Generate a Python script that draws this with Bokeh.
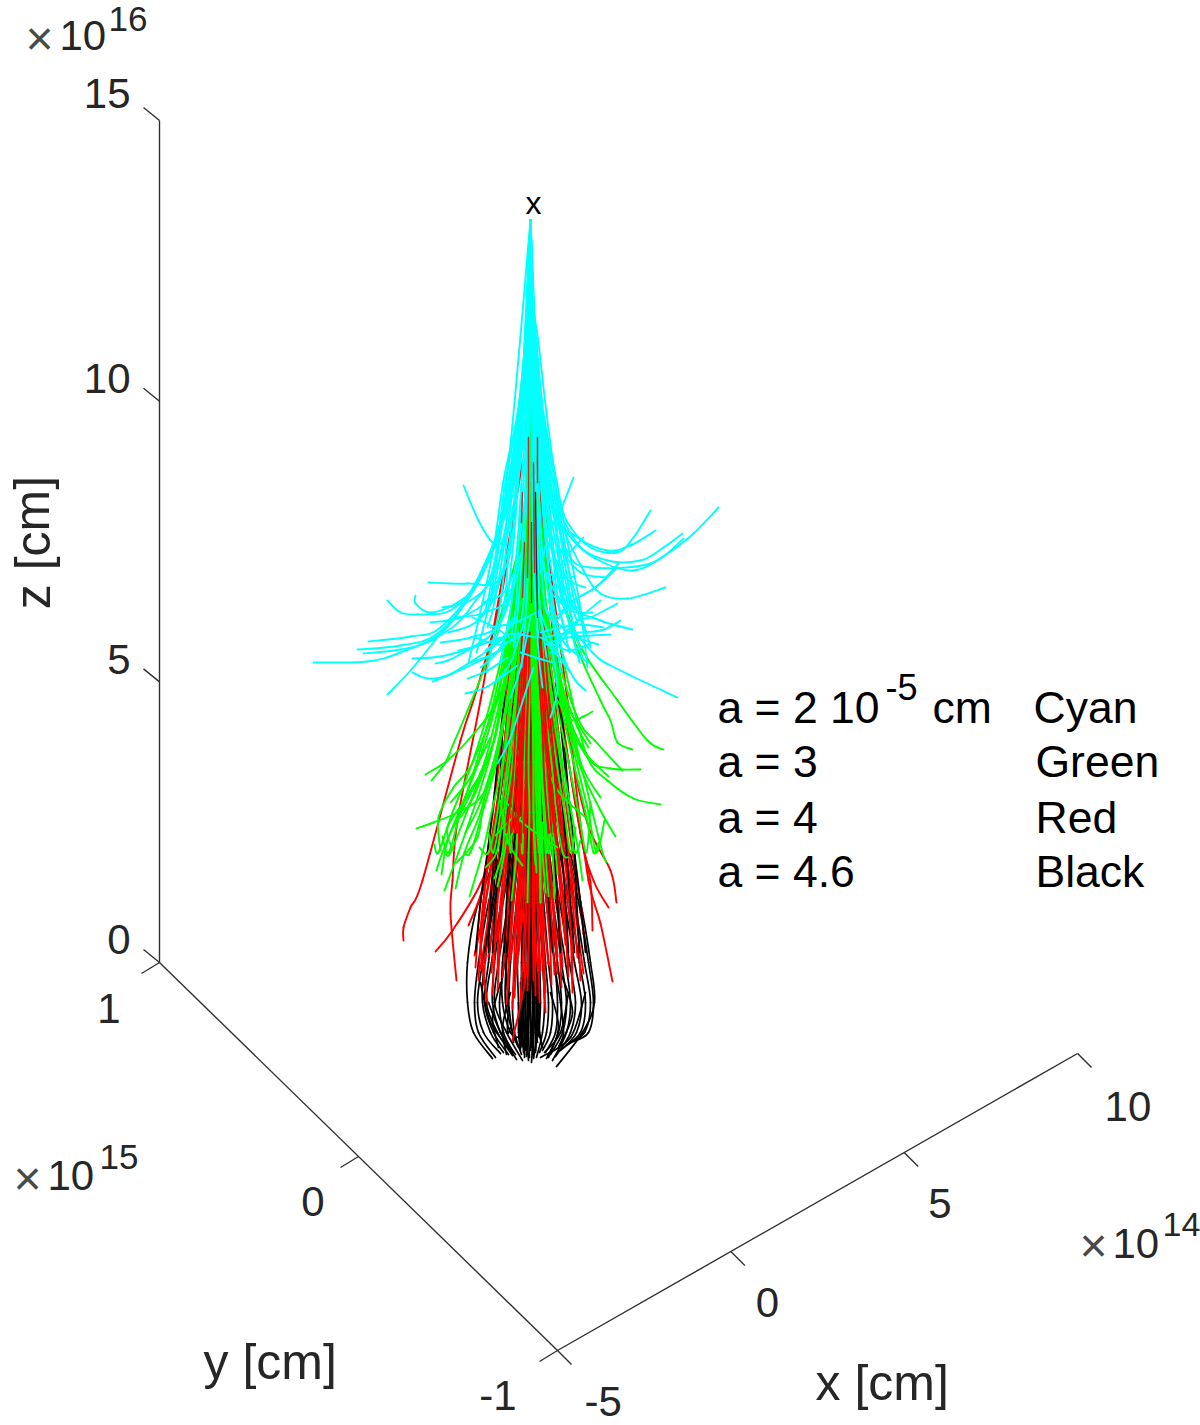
from bokeh.plotting import figure
from bokeh.models import Range1d
from bokeh.core.properties import value
from bokeh.embed import file_html
from bokeh.resources import INLINE

# ---------- axis values ----------
x_ticks = [-5, 0, 5, 10]       # x10^14 cm
y_ticks = [-1, 0, 1]           # x10^15 cm
z_ticks = [0, 5, 10, 15]       # x10^16 cm

# ---------- trajectories in the chart's view plane ----------
# h = horizontal offset from the comet axis, v = height above z = 0 (56.1 units = 10^16 cm)
cyan_core_v = [742, 665, 620, 549, 482, 420, 360]
cyan_core_end = [300, 345, 310, 335, 290, 320, 350, 300, 330, 315, 340, 295, 325, 305, 345, 320, 290, 335, 310, 350, 300, 325, 340, 315, 295, 330, 345, 305]
cyan_core_h = [
    [0, -1, -5, -13, -27, -36, -48, -62], [0, -1, -4, -12, -25, -33, -43, -50], [0, -1, -4, -11, -22, -31, -41, -54],
    [0, -1, -3, -10, -20, -26, -36, -43], [0, -1, -3, -8, -17, -24, -30, -44], [0, -1, -2, -7, -14, -21, -26, -35],
    [0, 0, -2, -5, -12, -17, -24, -28], [0, 0, -2, -4, -9, -13, -19, -30], [0, 0, -1, -3, -7, -12, -14, -19],
    [0, 0, -1, -2, -5, -8, -12, -17], [0, 0, -1, -1, -3, -6, -7, -10], [0, 0, 0, -1, -1, -2, -4, -9],
    [0, 0, 0, 1, 2, 2, 5, 8], [0, 0, 1, 2, 4, 7, 9, 16], [0, 0, 1, 3, 6, 9, 14, 19], [0, 0, 1, 4, 8, 11, 19, 27],
    [0, 0, 2, 5, 10, 16, 21, 30], [0, 1, 2, 6, 12, 17, 27, 34], [0, 1, 3, 7, 14, 21, 28, 39], [0, 1, 3, 8, 16, 22, 33, 36],
    [0, 1, 3, 9, 18, 27, 34, 49], [0, 1, 4, 10, 20, 28, 39, 44], [0, 1, 4, 11, 22, 31, 41, 47], [0, 1, 5, 12, 24, 32, 47, 60],
    [0, 1, 6, 13, 26, 37, 49, 57], [0, 2, 8, 16, 25, 34, 44, 56], [0, 0, -3, -9, -16, -28, -40, -52], [0, 0, 2, 7, 15, 25, 37, 52],
]
cyan_curves = [
    [(0,742),(5,600),(13,520),(23,459),(37,429),(63,405),(103,392),(137,409),(163,429),(188,455)],
    [(0,742),(4,610),(12,530),(22,470),(47,419),(77,402),(110,402),(133,415),(152,429)],
    [(0,742),(5,600),(14,510),(23,449),(47,425),(77,412),(100,417),(125,432)],
    [(0,742),(4,620),(12,520),(27,470),(37,440),(60,415),(87,410),(103,425),(120,452)],
    [(43,485),(30,452),(18,429),(10,390)],
    [(-67,477),(-52,442),(-38,420),(-27,422),(-18,452),(-10,512),(-2,622),(0,742)],
    [(0,742),(6,590),(18,480),(30,440),(53,392),(70,369),(97,364),(135,375)],
    [(53,425),(33,402),(23,382)],
    [(88,399),(65,375),(43,362),(25,340)],
    [(87,359),(60,345),(47,342),(25,320)],
    [(70,362),(50,345),(40,332),(20,310)],
    [(0,742),(8,560),(20,420),(40,359),(70,342),(102,333)],
    [(90,342),(70,332),(33,329),(15,325)],
    [(80,328),(37,325),(15,318)],
    [(73,335),(50,338),(30,335),(10,330)],
    [(60,319),(40,312),(25,317),(10,325)],
    [(0,742),(8,540),(22,420),(35,350),(63,309),(90,292),(147,265)],
    [(0,742),(6,560),(15,420),(30,319),(43,285),(55,272)],
    [(45,386),(30,385),(15,390)],
    [(0,742),(10,530),(22,460),(38,408),(60,395),(120,399),(153,424)],
    [(87,395),(65,375),(43,362),(25,345)],
    [(-217,300),(-163,301),(-130,310),(-90,329),(-63,365),(-37,419),(-17,475),(-7,560),(0,742)],
    [(-173,313),(-130,317),(-93,329),(-55,375),(-28,440),(-12,520),(0,742)],
    [(-162,321),(-120,326),(-90,335),(-50,385),(-25,460),(-10,540),(0,742)],
    [(-167,309),(-130,313),(-97,323),(-60,355),(-30,430),(0,742)],
    [(-143,362),(-130,350),(-113,348),(-80,352),(-53,382),(-25,450),(-8,570),(0,742)],
    [(-115,367),(-115,359),(-100,350),(-73,360),(-50,385),(-22,470),(-6,590),(0,742)],
    [(-102,380),(-63,379),(-30,385),(-15,460),(0,742)],
    [(-143,268),(-120,292),(-90,329),(-63,365),(-30,440),(-8,590),(0,742)],
    [(-118,290),(-103,284),(-83,287),(-53,305),(-30,322),(-15,345)],
    [(-98,281),(-80,288),(-50,302),(-30,312)],
    [(-95,299),(-83,302),(-63,312),(-43,325)],
    [(-118,304),(-90,306),(-57,315),(-30,325)],
    [(-63,284),(-43,292),(-23,305)],
    [(-65,269),(-43,276),(-13,297)],
    [(-33,199),(-20,225),(3,295)],
    [(20,245),(27,275),(20,320)],
    [(-90,320),(-60,325),(-30,340),(-10,400)],
    [(-75,345),(-45,350),(-20,370),(-8,450)],
    [(-100,340),(-70,345),(-40,365),(-25,400)],
    [(-55,325),(-30,318),(-5,330)],
    [(-40,335),(-15,340),(5,350)],
    [(-60,300),(-35,310),(-12,330)],
    [(-48,360),(-25,372),(-5,420)],
    [(35,300),(18,318),(5,360)],
    [(50,355),(30,362),(12,395)],
    [(-82,330),(-55,340),(-35,368),(-18,430)],
    [(-72,312),(-48,320),(-28,345),(-15,390)],
    [(-88,355),(-60,362),(-38,385),(-20,440)],
    [(-50,295),(-32,312),(-18,345)],
    [(-35,280),(-20,300),(-5,345)],
    [(-58,345),(-35,335),(-15,320)],
    [(62,350),(40,352),(18,372)],
    [(68,318),(45,326),(20,345)],
    [(40,290),(25,312),(10,350)],
    [(55,375),(35,385),(18,420)],
    [(75,385),(50,390),(28,415)],
    [(58,300),(35,318),(15,355)],
    [(-20,265),(-10,295),(0,345)],
    [(12,275),(8,310),(5,360)],
    [(-10,310),(5,305),(22,300)],
    [(-45,312),(-22,328),(5,325)],
]

green_core_v = [650, 500, 400, 320, 260, 200, 150, 110]
green_core_end = [92, 72, 110, 66, 130, 84, 145, 62, 118, 60, 98, 150, 70, 125, 88, 105, 135, 82, 160, 120, 76, 115, 95, 66, 140, 60, 90, 128, 74, 108, 64, 122, 118, 100, 142, 126]
green_core_h = [
    [0,-3,-10,-22,-34,-52,-72,-88,-94], [0,-3,-9,-18,-28,-42,-58,-72,-86], [0,-3,-8,-16,-24,-34,-48,-60,-66],
    [0,-2,-6,-14,-21,-28,-39,-48,-61], [0,-2,-5,-11,-16,-23,-30,-37,-42], [0,-1,-4,-9,-14,-18,-25,-28,-36],
    [0,-1,-3,-7,-10,-15,-18,-20,-22], [0,-1,-2,-5,-8,-10,-13,-14,-19], [0,0,-1,-3,-4,-6,-7,-8,-9],
    [0,0,0,-1,-1,-2,-1,-2,-3], [0,0,1,1,2,3,3,4,5], [0,0,1,2,4,5,6,8,9], [0,1,2,4,6,9,10,12,15],
    [0,1,3,6,9,13,15,18,22], [0,1,4,8,12,16,20,25,27], [0,2,5,10,14,21,26,32,38], [0,2,6,12,18,26,34,40,45],
    [0,2,7,14,23,32,41,48,52], [0,3,8,17,26,38,48,56,60], [0,3,9,19,30,43,55,63,68], [0,-1,-3,-6,-12,-16,-21,-26,-33],
    [0,-2,-7,-13,-19,-27,-33,-42,-51], [0,-1,-5,-8,-15,-21,-27,-34,-45], [0,1,2,5,7,10,13,15,18], [0,0,2,3,5,7,9,11,12],
    [0,0,1,3,4,6,8,9,10], [0,0,0,1,2,3,3,5,6], [0,1,3,5,8,11,14,16,19], [0,-2,-7,-15,-24,-37,-50,-66,-75],
    [0,-2,-8,-19,-31,-46,-64,-80,-84], [0,1,3,7,10,14,18,22,24], [0,2,6,13,21,30,38,44,50],
    [0,-3,-12,-26,-40,-58,-78,-92,-96], [0,3,10,22,36,50,62,72,76], [0,3,10,20,32,46,58,66,74], [0,-3,-11,-24,-37,-54,-70,-82,-88],
]
green_curves = [
    [(-105,188),(-83,202),(-60,225),(-33,262),(-15,322)],
    [(-99,182),(-85,200),(-77,219),(-63,252),(-40,312),(-10,420)],
    [(-114,134),(-97,140),(-73,150),(-50,165),(-37,195),(-20,280),(-8,400)],
    [(-90,112),(-92,145),(-77,175),(-57,202),(-30,280),(-10,420)],
    [(-89,88),(-83,122),(-70,149),(-50,190),(-30,250),(-10,420)],
    [(-74,100),(-53,125),(-47,162),(-37,195),(-20,280),(-5,450)],
    [(-77,112),(-83,135),(-60,172),(-35,230),(-8,420)],
    [(-8,97),(-23,122),(-30,162)],
    [(27,115),(-7,139),(-23,159)],
    [(-23,119),(-10,145)],
    [(-35,127),(-13,150)],
    [(55,145),(27,172),(10,210)],
    [(85,126),(70,152),(50,195),(38,245),(18,340),(5,480)],
    [(130,158),(103,164),(77,182),(57,205),(40,270),(18,380),(3,520)],
    [(110,193),(80,194),(57,205),(30,262),(15,350)],
    [(92,192),(67,219),(47,245),(25,320),(5,480)],
    [(102,213),(87,220),(80,242),(70,262),(43,325),(20,420),(5,520)],
    [(133,213),(117,222),(87,262),(47,322),(25,400),(5,520)],
    [(62,251),(53,246),(40,243),(25,265)],
    [(58,215),(47,235),(30,280)],
    [(60,219),(40,250)],
    [(78,186),(55,210),(35,255),(15,340)],
    [(70,165),(52,195),(35,250)],
    [(-70,145),(-55,170),(-35,225)],
    [(-80,160),(-60,185),(-40,225)],
    [(-65,130),(-50,160),(-28,230)],
    [(10,60),(10,120),(8,230)],
]

red_core_v = [600, 500, 400, 300, 230, 170, 110, 60]
red_core_end = [-5, 12, -22, 6, -32, 22, -15, -42, 3, -35, -12, -38, -22, -28, -18, -5, -40, 9, -30, 15, -12, -25, 18, -8, -30, 5, -18, 28,
                -18, 2, -10, -28, 20, -25, -46, 8, -33, -8, -36, -2, -22, 6, -4, -14, 14, 30]
red_core_h = [
    [0,-1,-7,-20,-28,-35,-43,-50,-55], [0,-2,-6,-17,-24,-30,-38,-45,-50], [0,-1,-5,-14,-21,-27,-35,-41,-47],
    [0,-1,-5,-12,-18,-24,-31,-35,-42], [0,0,-4,-10,-15,-20,-27,-33,-38], [0,-1,-3,-8,-12,-17,-23,-28,-35],
    [0,0,-3,-6,-9,-12,-17,-21,-28], [0,0,-1,-5,-7,-10,-13,-17,-24], [0,-1,-2,-3,-6,-8,-11,-13,-20],
    [0,0,-1,-3,-3,-6,-8,-11,-16], [0,0,-2,-2,-4,-4,-6,-9,-14], [0,0,-1,-1,-2,-3,-5,-5,-10],
    [0,0,0,-1,-1,-2,-2,-4,-6], [0,0,0,0,1,0,-1,-1,-3], [0,0,1,0,2,1,2,2,3], [0,0,0,2,2,3,4,3,7],
    [0,0,1,1,3,5,5,7,9], [0,1,1,3,3,6,8,9,12], [0,0,2,3,5,6,10,11,15], [0,1,2,5,8,10,13,16,20],
    [0,1,3,6,9,12,16,20,24], [0,1,3,8,13,16,22,27,31], [0,1,4,10,15,19,26,31,35], [0,2,4,12,17,22,28,33,38],
    [0,2,4,14,19,25,33,39,42], [0,2,5,16,22,28,36,42,47], [0,2,6,18,24,30,38,46,50], [0,2,7,20,28,34,42,50,53],
    [0,-1,-6,-18,-25,-32,-41,-47,-52], [0,-1,-5,-13,-19,-27,-35,-41,-45], [0,-1,-4,-11,-16,-22,-29,-34,-39],
    [0,0,-3,-8,-12,-18,-23,-28,-33], [0,-1,-3,-6,-10,-13,-20,-23,-27], [0,0,-2,-5,-8,-11,-15,-19,-23],
    [0,0,-1,-3,-5,-8,-9,-14,-18], [0,0,0,-2,-3,-5,-7,-7,-12], [0,0,1,1,3,2,4,4,5], [0,0,1,2,4,4,6,7,10],
    [0,1,1,3,5,7,9,12,14], [0,0,2,4,6,9,12,12,18], [0,1,3,5,7,10,13,18,21], [0,1,3,7,10,13,18,23,27],
    [0,1,3,9,13,17,23,28,32], [0,1,4,11,15,20,27,33,38], [0,2,4,13,18,24,31,37,43], [0,-1,-2,-4,-6,-8,-10,-12,-15],
]
red_curves = [
    [(-127,22),(-127,35),(-120,55),(-108,82),(-70,222),(-53,275),(-30,362),(-13,472)],
    [(-74,-18),(-80,49),(-78,82),(-73,142),(-50,262),(-25,402),(-8,500)],
    [(-95,11),(-78,32),(-50,79),(-35,130),(-15,300)],
    [(82,-19),(70,39),(58,82),(45,180),(37,262),(15,430),(5,520)],
    [(86,60),(80,92),(57,139),(38,229),(18,380),(5,520)],
    [(78,55),(63,82),(50,129),(30,260),(5,500)],
    [(62,32),(60,80),(50,130),(25,280)],
    [(53,-11),(45,50),(35,140),(15,330)],
    [(42,-21),(40,50),(30,150),(12,350)],
    [(-18,-78),(-3,-1),(-1,100)],
    [(-43,-41),(-50,20),(-45,80),(-28,200),(-10,400)],
    [(15,-50),(10,60),(8,200)],
    [(-62,37),(-45,85),(-25,200)],
    [(-56,7),(-45,60),(-30,150)],
    [(-50,-6),(-40,60),(-25,180)],
    [(-33,-11),(-30,60),(-15,200)],
    [(27,-11),(22,60),(12,200)],
]
red_over_green_v = [330, 280, 230, 180, 130]
red_over_green_h = [
    [-6,-9,-12,-15,-19], [-3,-5,-8,-10,-13], [-8,-11,-15,-18,-24], [-1,-2,-4,-5,-7], [-4,-7,-9,-13,-16],
    [10,13,16,20,24], [7,9,12,14,18], [13,17,21,25,30], [-5,-6,-9,-11,-14], [9,11,14,18,21],
]
red_over_cyan = [
    [(-2,525),(-2,450),(-3,385)],
    [(7,525),(7,480)],
    [(-8,470),(-9,440)],
    [(3,500),(4,390)],
    [(-6,420),(-8,365)],
]
dark_over_cyan = [
    [(5,470),(6,400),(7,345)],
    [(1,440),(1,360)],
]

black_core_v = [450, 350, 250, 170, 100, 50, 0, -40, -70]
black_core_end = [-96, -95, -91, -90, -92, -93, -97, -98, -75, -80, -65, -92, -88, -84, -90, -95, -85, -92, -95, -88, -85, -92, -94, -88, -80, -75, -85, -95, -90, -88, -90, -96, -92, -98, -94, -88, -86, -82, -80, -104, -85, -85, -90]
black_core_h = [
    [-1,-4,-12,-24,-38,-55,-63,-63,-57,-38], [-1,-3,-10,-20,-33,-44,-52,-56,-52,-35], [-1,-3,-9,-19,-30,-40,-48,-53,-47,-30],
    [-1,-2,-9,-18,-29,-38,-46,-48,-40,-27], [-1,-3,-8,-15,-26,-36,-42,-46,-37,-22], [-1,-2,-7,-14,-23,-31,-39,-44,-33,-18],
    [0,-2,-6,-13,-21,-29,-36,-38,-30,-14], [0,-2,-5,-10,-19,-24,-32,-36,-24,-8], [0,-1,-4,-9,-15,-22,-28,-28,-20,-12],
    [0,-1,-4,-7,-13,-18,-24,-25,-18,-17], [0,-1,-3,-6,-11,-15,-20,-22,-23,-20], [0,0,-2,-5,-9,-12,-15,-18,-16,-9],
    [0,0,-2,-4,-7,-10,-13,-12,-12,-10], [0,0,-1,-3,-6,-8,-9,-9,-10,-8], [0,-1,-1,-3,-4,-6,-8,-8,-8,-7],
    [0,0,-1,-2,-4,-5,-6,-7,-6,-6], [0,0,-1,-1,-3,-4,-5,-5,-5,-4], [0,0,0,-1,-2,-3,-3,-3,-4,-3],
    [0,0,0,-1,-1,-2,-2,-2,-2,-1], [0,0,0,0,-1,-1,-1,-1,0,0], [0,0,0,0,0,0,0,0,1,1], [0,0,0,1,1,1,1,2,2,2],
    [0,0,1,1,1,2,2,3,3,3], [0,0,1,1,2,3,4,4,5,5], [0,0,1,2,3,4,5,6,6,7], [0,0,1,2,4,5,6,8,8,9], [0,1,2,3,5,6,9,10,9,12],
    [0,1,2,4,6,9,12,14,12,6], [0,1,3,5,8,11,15,18,16,9], [0,1,3,6,10,14,18,22,20,12], [0,2,4,7,12,17,24,27,25,15],
    [1,2,5,9,14,20,27,31,28,16], [1,2,5,10,17,24,31,36,32,20], [1,3,6,12,20,27,35,40,36,22], [1,3,7,14,23,31,39,45,40,25],
    [1,3,8,16,27,36,44,51,46,30], [1,4,9,18,31,41,49,55,50,32], [1,4,10,21,36,46,54,60,54,36], [1,4,11,23,40,50,58,63,58,40],
    [1,5,12,24,42,52,60,64,52,26], [-1,-4,-10,-17,-22,-24,-25,-22,-18,-12], [1,3,8,14,18,20,24,30,33,28], [0,-2,-4,-8,-13,-20,-26,-31,-27,-17],
]
black_curves = [
    [(-12,-40),(-10,-85),(-8,-60)],
    [(12,-85),(8,-60),(9,-20)],
    [(-10,-20),(-9,-60),(-6,-92)],
    [(9,-30),(7,-70),(3,-96)],
    [(-42,-40),(-30,-70),(-15,-92)],
    [(-50,-20),(-40,-60),(-20,-88)],
    [(-30,-20),(-38,-55),(-32,-85)],
    [(-20,-30),(-28,-65),(-24,-92)],
    [(30,-10),(42,-50),(28,-85)],
    [(55,-30),(40,-75),(10,-95)],
    [(20,-30),(28,-65),(18,-95)],
    [(38,-30),(30,-70),(14,-90)],
    [(-9,-15),(-8,-50),(-5,-88)],
    [(-7,-10),(-5,-55),(-2,-98)],
    [(8,-12),(7,-50),(5,-90)],
    [(-4,-12),(-3,-55),(-4,-94)],
    [(5,-12),(4,-55),(1,-100)],
]
black_over_red_v = [300, 230, 170, 110, 60, 10]
black_over_red_h = [
    [-22,-30,-36,-43,-50,-55], [-18,-24,-30,-36,-40,-42], [24,31,37,44,50,55], [20,26,31,36,40,44],
    [-14,-19,-24,-30,-35,-38], [15,21,26,31,35,38], [-6,-9,-12,-17,-20,-24], [6,9,11,15,18,22],
    [-24,-28,-31,-34,-38,-46], [28,33,38,44,46,49], [-10,-13,-16,-20,-24,-26], [11,14,18,24,27,30],
]

# ---------- view of the 3-D box ----------
Z_UNIT = 56.13
X_STEP = (34.67, 19.8)
Y_STEP = (-199.0, 194.0)
ORIGIN = (27.0, -388.0)   # x = -5, y = -1, z = 0


def project(x, y, z):
    return (ORIGIN[0] + (x + 5) * X_STEP[0] + (y + 1) * Y_STEP[0],
            ORIGIN[1] + (x + 5) * X_STEP[1] + (y + 1) * Y_STEP[1] + z * Z_UNIT)


p = figure(width=1200, height=1425, output_backend="svg", toolbar_location=None,
           x_range=Range1d(-530, 670), y_range=Range1d(-463, 962),
           min_border=0, x_axis_type=None, y_axis_type=None, outline_line_color=None)
p.grid.visible = False
p.background_fill_color = "white"

AX = "#303030"


def draw_curves(curves, color, width):
    """Draw each read curve through its points as cubic Bezier spans."""
    cols = {k: [] for k in ("x0", "y0", "x1", "y1", "cx0", "cy0", "cx1", "cy1")}
    for c in curves:
        for i in range(len(c) - 1):
            a, b = c[i], c[i + 1]
            prev = c[i - 1] if i > 0 else a
            nxt = c[i + 2] if i + 2 < len(c) else b
            cols["x0"].append(a[0]); cols["y0"].append(a[1])
            cols["x1"].append(b[0]); cols["y1"].append(b[1])
            cols["cx0"].append(a[0] + (b[0] - prev[0]) / 6); cols["cy0"].append(a[1] + (b[1] - prev[1]) / 6)
            cols["cx1"].append(b[0] - (nxt[0] - a[0]) / 6); cols["cy1"].append(b[1] - (nxt[1] - a[1]) / 6)
    p.bezier(line_color=color, line_width=width, line_cap="round", **cols)


def strands(levels, offsets, ends=None):
    out = []
    for i, o in enumerate(offsets):
        hs = list(levels[:len(o)])
        if ends is not None:
            hs = list(levels) + [ends[i]]
        out.append(list(zip(o, hs)))
    return out


# box edges
for a, b in [(project(-5, 1, 0), project(-5, 1, 15)),
             (project(-5, 1, 0), project(-5, -1, 0)),
             (project(-5, -1, 0), project(10, -1, 0))]:
    p.line([a[0], b[0]], [a[1], b[1]], line_color=AX, line_width=1.4)

# tick marks
for zt in z_ticks:
    a = project(-5, 1, zt)
    p.line([a[0], a[0] - 16], [a[1], a[1] + 13], line_color=AX, line_width=1.4)
for yt in y_ticks:
    a = project(-5, yt, 0)
    p.line([a[0], a[0] - 18], [a[1], a[1] - 11], line_color=AX, line_width=1.4)
for xt in x_ticks:
    a = project(xt, -1, 0)
    p.line([a[0], a[0] + 14], [a[1], a[1] - 14], line_color=AX, line_width=1.4)

# trajectories, largest grains first
draw_curves(strands(black_core_v, black_core_h, black_core_end), "#000000", 1.7)
draw_curves(black_curves, "#000000", 1.7)
draw_curves(strands(red_core_v, red_core_h, red_core_end), "#ff0000", 1.9)
draw_curves(red_curves, "#ff0000", 1.9)
draw_curves(strands(black_over_red_v, black_over_red_h), "#000000", 1.7)
draw_curves(strands(green_core_v, green_core_h, green_core_end), "#00ff00", 1.9)
draw_curves(green_curves, "#00ff00", 1.9)
draw_curves(strands(red_over_green_v, red_over_green_h), "#ff0000", 1.9)
draw_curves(strands(cyan_core_v, cyan_core_h, cyan_core_end), "#00ffff", 1.9)
draw_curves(cyan_curves, "#00ffff", 1.9)
draw_curves(red_over_cyan, "#c03030", 1.5)
draw_curves(dark_over_cyan, "#203040", 1.3)

FONT = value("Liberation Sans")
GREY = "#262626"
BLACK = "#000000"


def txt(h, v, s, size=42, color=GREY, angle=0.0, align="left"):
    # the SVG text box sits about 0.4 em under the requested baseline
    if angle:
        h -= 0.4 * size
    else:
        v += 0.4 * size
    p.text([h], [v], text=[s], text_font=FONT, text_font_size=f"{size}px", text_color=color,
           angle=angle, text_align=align, text_baseline="alphabetic")


# tick labels
for zt, dv in zip(z_ticks, [6, 6, 6, 10]):
    a = project(-5, 1, zt)
    txt(a[0] - 29, a[1] + dv, str(zt), align="right")
for yt, dh, dv in zip(y_ticks, [-41, -34, -39], [-62, -62, -63]):
    a = project(-5, yt, 0)
    txt(a[0] + dh, a[1] + dv, str(yt), align="right")
for xt, dh, dv in zip(x_ticks, [27, 25, 24, 27], [-68, -68, -68, -70]):
    a = project(xt, -1, 0)
    txt(a[0] + dh, a[1] + dv, str(xt))

# axis multipliers
for h, v, s, size, col in [(-505, 905, "\u00d7", 48, "#4a4a4a"), (-471, 910, "10", 42, GREY), (-422, 930, "16", 35, GREY),
                           (-517, -235, "\u00d7", 48, "#4a4a4a"), (-483, -230, "10", 42, GREY), (-431, -208, "15", 35, GREY),
                           (549, -302, "\u00d7", 48, "#4a4a4a"), (582, -298, "10", 42, GREY), (632, -276, "14", 34, GREY)]:
    txt(h, v, s, size, col)

# axis labels
txt(-478, 420, "z [cm]", 50, angle=1.5708, align="center")
txt(-327, -419, "y [cm]", 50)
txt(285, -440, "x [cm]", 50)

# grain-size legend
txt(187, 237, "a = 2 10", 44.5, BLACK)
txt(355, 261, "-5", 36, BLACK)
txt(402, 237, "cm", 44.5, BLACK)
txt(503, 237, "Cyan", 44.5, BLACK)
txt(187, 183, "a = 3", 44.5, BLACK)
txt(505, 183, "Green", 44.5, BLACK)
txt(187, 127, "a = 4", 44.5, BLACK)
txt(505, 127, "Red", 44.5, BLACK)
txt(187, 73, "a = 4.6", 44.5, BLACK)
txt(505, 73, "Black", 44.5, BLACK)

# marker above the tail
txt(3, 747, "x", 32, BLACK, align="center")

open("out.html", "w").write(file_html(p, INLINE))
